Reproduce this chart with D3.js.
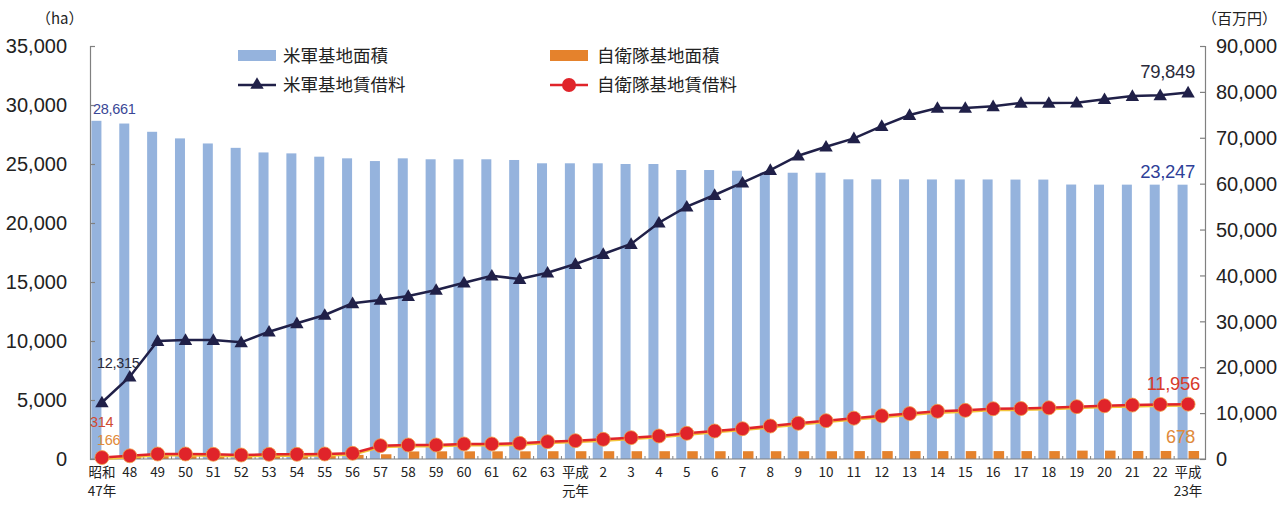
<!DOCTYPE html>
<html><head><meta charset="utf-8">
<script src="https://cdn.jsdelivr.net/npm/d3@7/dist/d3.min.js"></script>
<style>
html,body{margin:0;padding:0;background:#fff;}
svg{display:block;}
text{font-family:"Liberation Sans",Arial,"Noto Sans CJK JP",sans-serif;}
.jp{font-family:"Noto Sans CJK JP","Liberation Sans",sans-serif;}
</style></head>
<body><svg id="c" width="1282" height="508"></svg>
<script>
const categories = ["昭和\n47年","48","49","50","51","52","53","54","55","56","57","58","59","60","61","62","63",
  "平成\n元年","2","3","4","5","6","7","8","9","10","11","12","13","14","15","16","17","18","19","20","21","22","平成\n23年"];
const usArea = [28661,28430,27730,27170,26740,26370,25980,25900,25620,25480,25250,25480,25400,25400,25400,25340,25060,
  25060,25060,25000,25000,24490,24490,24430,24260,24260,24260,23700,23700,23700,23690,23690,23690,23680,23680,23260,23250,23250,23250,23247];
const sdfArea = [166,200,300,310,320,320,330,330,340,350,400,640,650,650,650,650,660,
  660,660,660,660,660,660,660,660,660,660,670,670,670,670,670,670,670,670,710,710,680,680,678];
const usRent = [12315,17930,25710,25930,25930,25430,27740,29570,31380,33930,34650,35500,36830,38420,39940,39220,40600,
  42490,44670,46850,51490,54980,57530,60210,62970,66090,68050,69880,72560,74960,76500,76500,76850,77600,77600,77650,78400,79100,79250,79849];
const sdfRent = [314,700,1090,1090,1020,870,1020,1020,1090,1240,2900,3050,3050,3270,3270,3420,3770,
  3990,4290,4650,5010,5600,6100,6600,7190,7780,8350,8900,9400,9900,10400,10600,10950,11000,11150,11400,11600,11750,11900,11956];
const leftTicks = [0,5000,10000,15000,20000,25000,30000,35000];
const rightTicks = [0,10000,20000,30000,40000,50000,60000,70000,80000,90000];
const legendLabels = ["米軍基地面積","自衛隊基地面積","米軍基地賃借料","自衛隊基地賃借料"];

const svg = d3.select("#c");
const plotTop = 46, plotBottom = 459, axL = 90, axR = 1205;
const x = d3.scaleBand().domain(d3.range(categories.length)).range([88,1202]).padding(0);
const yL = d3.scaleLinear().domain([0,35000]).range([plotBottom,plotTop]);
const yR = d3.scaleLinear().domain([0,90000]).range([plotBottom,plotTop]);
const cx = i => x(i) + x.bandwidth()/2;
const BLUE = "#95b3dd", ORANGE = "#e5822c", NAVY = "#202048", RED = "#e0242a";
const fmt = d3.format(",");

// bars
svg.append("g").selectAll("rect").data(usArea).join("rect")
  .attr("x",(d,i)=>cx(i)-10.5).attr("width",10)
  .attr("y",d=>yL(d)).attr("height",d=>plotBottom-yL(d)).attr("fill",BLUE);
svg.append("g").selectAll("rect").data(sdfArea).join("rect")
  .attr("x",(d,i)=>cx(i)+0.5).attr("width",10.5)
  .attr("y",d=>yL(d)).attr("height",d=>plotBottom-yL(d)).attr("fill",ORANGE);

// axes
const gL = svg.append("g").attr("transform",`translate(${axL},0)`)
  .call(d3.axisRight(yL).tickValues(leftTicks).tickSize(5).tickFormat(""));
const gR = svg.append("g").attr("transform",`translate(${axR},0)`)
  .call(d3.axisLeft(yR).tickValues(rightTicks).tickSize(5).tickFormat(""));
[gL,gR].forEach(g=>{g.select(".domain").attr("stroke","#808080").attr("stroke-width",1.2);
  g.selectAll(".tick line").attr("stroke","#808080").attr("stroke-width",1.2);});
svg.append("g").selectAll("text").data(leftTicks).join("text")
  .attr("x",67).attr("y",d=>yL(d)).attr("dy","0.36em").attr("text-anchor","end")
  .attr("font-size",20).attr("fill","#222").text(d=>fmt(d));
svg.append("g").selectAll("text").data(rightTicks).join("text")
  .attr("x",1216).attr("y",d=>yR(d)).attr("dy","0.36em").attr("text-anchor","start")
  .attr("font-size",20).attr("fill","#222").text(d=>fmt(d));
// x axis
svg.append("line").attr("x1",axL).attr("x2",axR).attr("y1",plotBottom).attr("y2",plotBottom)
  .attr("stroke","#808080").attr("stroke-width",1.2);
svg.append("g").selectAll("line").data(d3.range(1,categories.length)).join("line")
  .attr("x1",i=>x(i)).attr("x2",i=>x(i)).attr("y1",plotBottom).attr("y2",plotBottom-3)
  .attr("stroke","#808080").attr("stroke-width",1);
const xl = svg.append("g").selectAll("text").data(categories).join("text")
  .attr("class","jp").attr("text-anchor","middle").attr("font-size",13.5).attr("fill","#222")
  .attr("transform",(d,i)=>`translate(${cx(i)},0)`);
xl.each(function(d){
  const lines = d.split("\n");
  d3.select(this).selectAll("tspan").data(lines).join("tspan")
    .attr("x",0).attr("y",(l,j)=>477+j*19).text(l=>l);
});

// lines
const lineR = d3.line().x((d,i)=>cx(i)).y(d=>yR(d));
svg.append("path").datum(sdfRent).attr("d",d3.line().x((d,i)=>cx(i)).y(d=>yR(d)+1.6))
  .attr("fill","none").attr("stroke","#f3c43a").attr("stroke-width",2);
svg.append("path").datum(sdfRent).attr("d",lineR).attr("fill","none").attr("stroke",RED).attr("stroke-width",2.5);
svg.append("g").selectAll("circle").data(sdfRent).join("circle")
  .attr("cx",(d,i)=>cx(i)).attr("cy",d=>yR(d)).attr("r",7).attr("fill",RED)
  .attr("stroke","#f0a24a").attr("stroke-width",0.8);
svg.append("path").datum(usRent).attr("d",lineR).attr("fill","none").attr("stroke",NAVY).attr("stroke-width",2.5);
const tri = d3.symbol().type(d3.symbolTriangle).size(78);
svg.append("g").selectAll("path").data(usRent).join("path")
  .attr("d",tri).attr("transform",(d,i)=>`translate(${cx(i)},${yR(d)+1})`).attr("fill",NAVY);

// unit labels
svg.append("text").attr("class","jp").attr("x",36).attr("y",24).attr("font-size",15).attr("fill","#222").text("（ha）");
svg.append("text").attr("class","jp").attr("x",1202).attr("y",24).attr("font-size",15).attr("fill","#222").text("（百万円）");

// legend
const lg = svg.append("g").attr("class","jp");
lg.append("rect").attr("x",238).attr("y",50).attr("width",38).attr("height",11).attr("fill",BLUE);
lg.append("rect").attr("x",550).attr("y",50).attr("width",38).attr("height",11).attr("fill",ORANGE);
lg.append("line").attr("x1",238).attr("x2",276).attr("y1",85).attr("y2",85).attr("stroke",NAVY).attr("stroke-width",2.5);
lg.append("path").attr("d",tri).attr("transform","translate(257,85)").attr("fill",NAVY);
lg.append("line").attr("x1",550).attr("x2",588).attr("y1",85).attr("y2",85).attr("stroke",RED).attr("stroke-width",2.5);
lg.append("circle").attr("cx",569).attr("cy",85).attr("r",7).attr("fill",RED);
const lpos = [[283,56],[597,56],[283,85],[597,85]];
lg.selectAll("text").data(legendLabels).join("text")
  .attr("x",(d,i)=>lpos[i][0]).attr("y",(d,i)=>lpos[i][1]).attr("dy","0.36em")
  .attr("font-size",17.5).attr("fill","#222").text(d=>d);

// value labels
const n = categories.length-1;
function lab(t,xx,yy,anchor,size,color){
  svg.append("text").attr("x",xx).attr("y",yy).attr("dy","0.36em").attr("text-anchor",anchor)
    .attr("font-size",size).attr("fill",color).attr("letter-spacing",-0.3).text(t);
}
lab(fmt(usArea[0]), cx(0)-9, yL(usArea[0])-12, "start", 14.5, "#3a4796");
lab(fmt(usRent[0]), cx(0)-5, yR(usRent[0])-40, "start", 14.5, "#2a2a3a");
lab(fmt(sdfRent[0]), cx(0)-12, 422, "start", 14.5, "#d04a30");
lab(fmt(sdfArea[0]), cx(0)-5, 440, "start", 14.5, "#e08a3a");
lab(fmt(usRent[n]), cx(n)+7, yR(usRent[n])-21, "end", 18.5, "#2a2a3a");
lab(fmt(usArea[n]), cx(n)+7, yL(usArea[n])-13, "end", 18.5, "#2e3f98");
lab(fmt(sdfRent[n]), cx(n)+12, yR(sdfRent[n])-21, "end", 18.5, "#d83a2a");
lab(fmt(sdfArea[n]), cx(n)+7, 437, "end", 18, "#e08a3a");
</script></body></html>
